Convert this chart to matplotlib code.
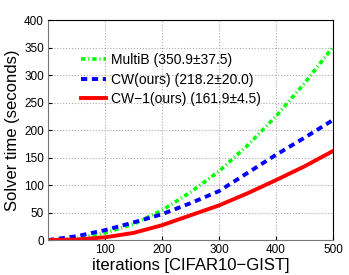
import matplotlib
matplotlib.use("Agg")
import matplotlib.pyplot as plt

plt.rcParams['font.family'] = ['Liberation Sans', 'DejaVu Sans']

iters = [0, 50, 100, 150, 200, 250, 300, 350, 400, 450, 500]
multib = [0, 3, 13, 29, 54, 87, 125, 172, 225, 285, 350.9]
cw = [0, 7, 18, 32, 47, 67, 89, 122, 155, 186, 218.2]
cw1 = [0, 1, 5, 13, 27, 45, 63, 85, 109, 134, 161.9]
labels = ['MultiB (350.9\u00b137.5)', 'CW(ours) (218.2\u00b120.0)', 'CW\u22121(ours) (161.9\u00b14.5)']
xticks = [100, 200, 300, 400, 500]
yticks = [0, 50, 100, 150, 200, 250, 300, 350, 400]

fig = plt.figure(figsize=(3.49, 2.75), dpi=100)
ax = fig.add_axes([0.1375, 0.127, 0.8165, 0.8])

ax.plot(iters, multib, color='#00ff00', lw=2.6, linestyle=(0, (1.2, 0.8, 0.3, 0.8)), label=labels[0])
ax.plot(iters, cw, color='#0000ff', lw=2.8, linestyle=(0, (1.6, 1.2)), label=labels[1])
ax.plot(iters, cw1, color='#ff0000', lw=2.8, linestyle='-', label=labels[2])

ax.set_xlim(0, 500)
ax.set_ylim(0, 400)
ax.set_xticks(xticks)
ax.set_yticks(yticks)
ax.tick_params(direction='in', length=3, labelsize=8.5, pad=3)
ax.grid(True, linestyle=':', color='#aaaaaa', linewidth=0.8)
for s in ['left', 'bottom']:
    ax.spines[s].set_color('#777777')
for s in ['top', 'right']:
    ax.spines[s].set_color('black')

ax.set_xlabel('iterations [CIFAR10\u2212GIST]', fontsize=12, labelpad=1)
ax.set_ylabel('Solver time (seconds)', fontsize=12, labelpad=3)

leg = ax.legend(loc='upper left', bbox_to_anchor=(0.098, 0.877), frameon=False,
                fontsize=10, handlelength=1.8, handletextpad=0.3, labelspacing=0.42,
                borderaxespad=0)

fig.savefig('out.png', dpi=100)
